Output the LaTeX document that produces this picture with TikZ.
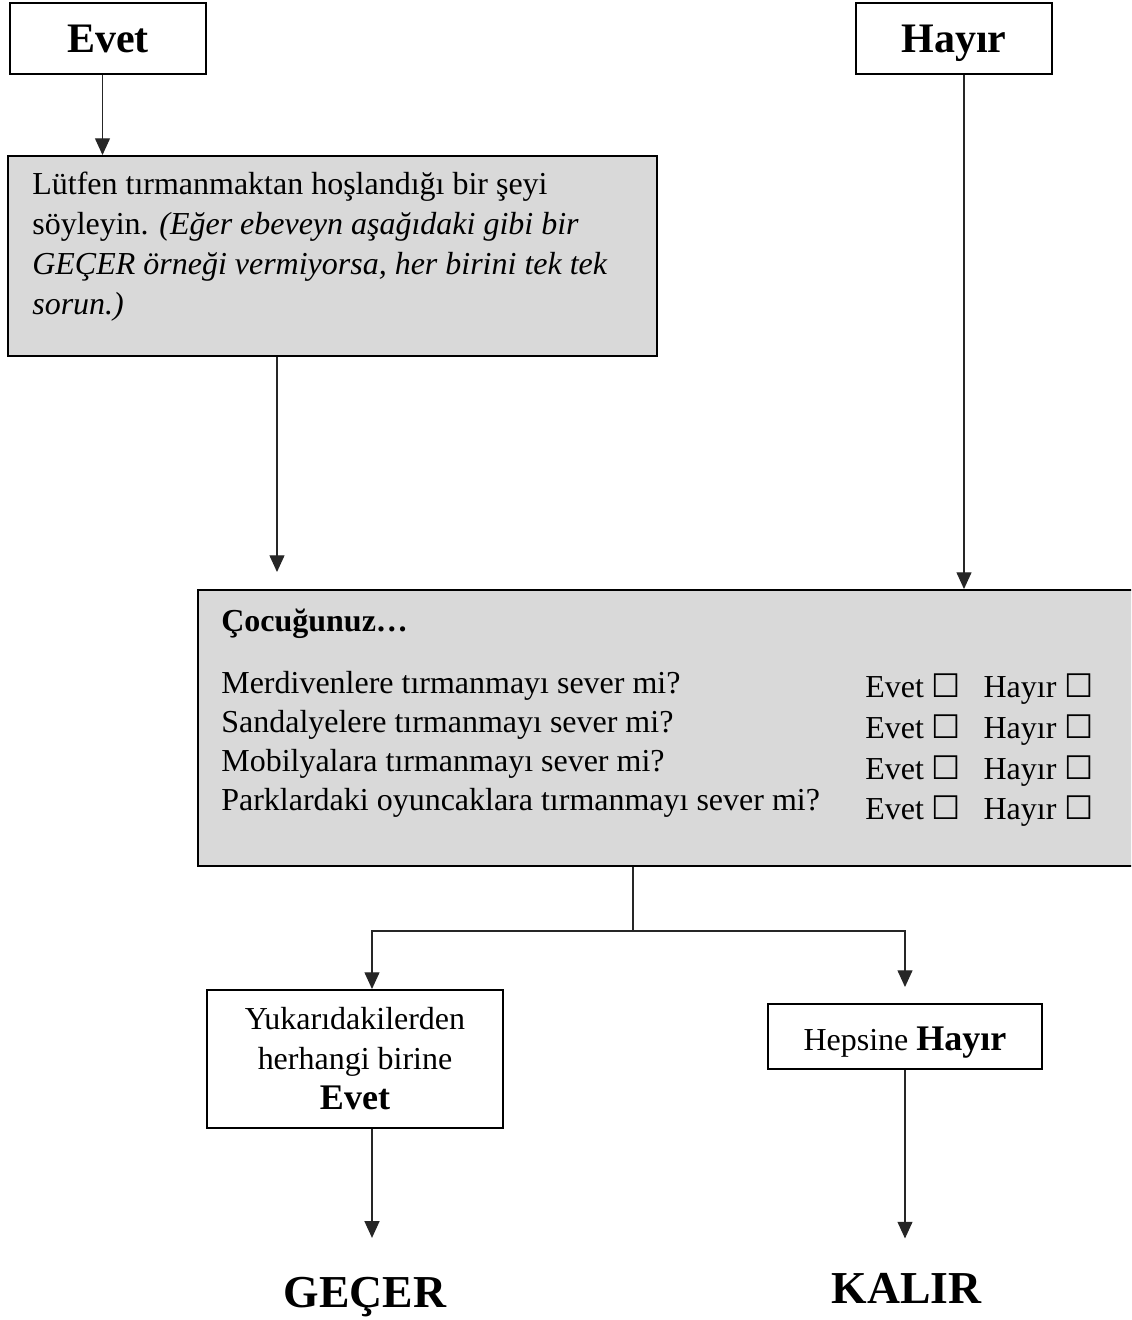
\documentclass[tikz,border=0pt]{standalone}
\usepackage{fontspec}
\setmainfont{Liberation Serif}
\newfontfamily\symbfont{DejaVu Sans}
\usetikzlibrary{arrows.meta,calc}
\definecolor{boxgrey}{HTML}{D9D9D9}
\newcommand{\ckbox}{{\symbfont\fontsize{18.5}{18.5}\selectfont ☐}}

\begin{document}
\begin{tikzpicture}[
    box/.style={draw, line width=1.1pt, inner sep=0pt},
    greybox/.style={box, fill=boxgrey},
    arr/.style={-{Triangle[length=9.5pt, width=8.5pt]}, line width=0.75pt, black!85},
    link/.style={line width=0.75pt, black!85},
    body/.style={font=\fontsize{18.2}{22.2}\selectfont, inner sep=0pt, align=left},
    title/.style={font=\fontsize{23.9}{28}\selectfont\bfseries, text height=0.58cm, text depth=0pt},
    verdict/.style={font=\fontsize{26}{30}\selectfont\bfseries, inner sep=0pt},
]
\clip (0,0) rectangle (22.62,26.4);

% --- top answers ---
\node[box, title, minimum width=3.92cm, minimum height=1.42cm] (evet) at (2.16,25.63) {Evet};
\node[box, title, minimum width=3.92cm, minimum height=1.42cm] (hayir) at (19.08,25.63) {Hayır};

% --- first question box ---
\node[greybox, minimum width=12.98cm, minimum height=4.0cm] (lutfen) at (6.65,21.28) {};
\node[body, anchor=base west, font=\fontsize{18.2}{22.8}\selectfont] (lutfentxt) at (0.64,20.1)
  {Lütfen tırmanmaktan hoşlandığı bir şeyi\\
   söyleyin. \textit{(Eğer ebeveyn aşağıdaki gibi bir}\\
   \textit{GEÇER örneği vermiyorsa, her birini tek tek}\\
   \textit{sorun.)}};

% --- checklist box ---
\node[greybox, minimum width=18.84cm, minimum height=5.52cm] (cocuk) at (13.38,11.84) {};
\node[body, anchor=base west, font=\fontsize{18.2}{22.2}\selectfont\bfseries] (cocuktitle) at (4.42,13.76) {Çocuğunuz…};
\node[body, anchor=base west] (sorular) at (4.42,10.18)
  {Merdivenlere tırmanmayı sever mi?\\
   Sandalyelere tırmanmayı sever mi?\\
   Mobilyalara tırmanmayı sever mi?\\
   Parklardaki oyuncaklara tırmanmayı sever mi?};
\node[body, anchor=base west, font=\fontsize{18.2}{23.3}\selectfont] (cevaplar) at (17.3,10.0)
  {Evet \ckbox\hspace{0.45cm}Hayır \ckbox\\
   Evet \ckbox\hspace{0.45cm}Hayır \ckbox\\
   Evet \ckbox\hspace{0.45cm}Hayır \ckbox\\
   Evet \ckbox\hspace{0.45cm}Hayır \ckbox};

% --- outcome boxes ---
\node[box, body, align=center, minimum width=5.92cm, minimum height=2.76cm,
  font=\fontsize{18.2}{22.8}\selectfont] (yukari) at (7.1,5.22)
  {Yukarıdakilerden\\herhangi birine\\{\fontsize{20.5}{22.8}\selectfont\bfseries Evet}};
\node[box, body, align=center, minimum width=5.48cm, minimum height=1.3cm,
  text height=0.58cm, text depth=0pt] (hepsi) at (18.1,5.67)
  {Hepsine {\fontsize{20.5}{22.8}\selectfont\bfseries Hayır}};

% --- verdicts ---
\node[verdict, anchor=base] (gecer) at (7.3,0.25) {GEÇER};
\node[verdict, anchor=base] (kalir) at (18.13,0.32) {KALIR};

% --- connectors ---
\draw[arr] ([xshift=-0.11cm]evet.south) -- ([xshift=-0.11cm]evet.south |- lutfen.north);
\draw[arr] ([xshift=0.2cm]hayir.south) -- ([xshift=0.2cm]hayir.south |- cocuk.north);
\draw[arr] ([xshift=-1.11cm]lutfen.south) -- ([xshift=-1.11cm, yshift=0.34cm]lutfen.south |- cocuk.north);

\coordinate (split) at ($(cocuk.south)+(-0.72,-1.28)$);
\draw[link] (split |- cocuk.south) -- (split);
\draw[arr] (split) -| ([xshift=0.34cm]yukari.north);
\draw[arr] (split) -| ([yshift=0.32cm]hepsi.north);

\draw[arr] ([xshift=0.34cm]yukari.south) -- ([xshift=0.34cm, yshift=0.78cm]yukari.south |- gecer.north);
\draw[arr] (hepsi.south) -- ([yshift=0.7cm]hepsi.south |- kalir.north);

\end{tikzpicture}
\end{document}
